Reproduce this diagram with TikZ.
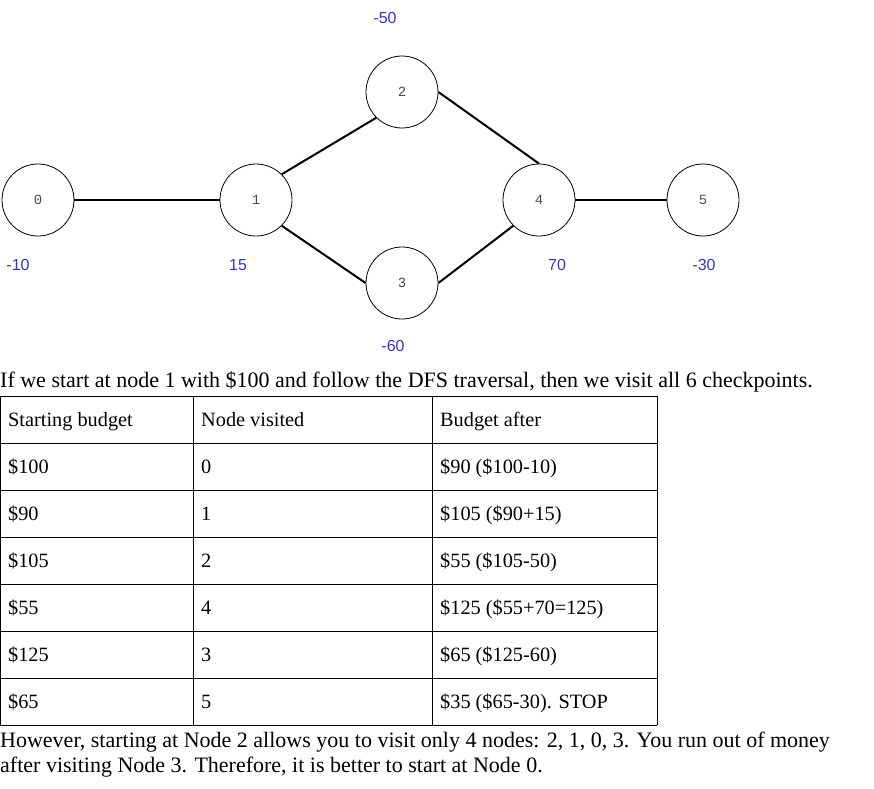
\documentclass[tikz,border=0pt]{standalone}
\usepackage{fontspec}
\setmainfont{Liberation Serif}
\newfontfamily\lsans{Liberation Sans}
\newfontfamily\lmono{Liberation Mono}
\definecolor{lblue}{HTML}{3535C8}
\begin{document}
\begin{tikzpicture}[x=1pt,y=-1pt,
  gnode/.style={circle,draw,line width=0.8pt,minimum size=72pt,inner sep=0pt,font=\lmono\fontsize{14}{16}\selectfont,text=black!70},
  wlab/.style={font=\lsans\fontsize{16}{19}\selectfont,text=lblue},
  edge/.style={line width=2pt},
  txt/.style={font=\fontsize{22}{26}\selectfont,anchor=base west,inner sep=0pt},
  cell/.style={font=\fontsize{20.3}{24}\selectfont,anchor=base west,inner sep=0pt}]
\useasboundingbox (0,0) rectangle (874,788);
\node[gnode] (n0) at (38,200) {0};
\node[gnode] (n1) at (256,200) {1};
\node[gnode] (n2) at (402,92) {2};
\node[gnode] (n3) at (402,283) {3};
\node[gnode] (n4) at (539,200) {4};
\node[gnode] (n5) at (703,200) {5};
\draw[edge] (n0) -- (n1);
\draw[edge] (n1.north east) -- (n2.south west);
\draw[edge] (n1.south east) -- (n3.west);
\draw[edge] (n2.east) -- (n4.north);
\draw[edge] (n3.east) -- (n4.south west);
\draw[edge] (n4) -- (n5);
\node[wlab] (w2) at (385,18) {-50};
\node[wlab] (w0) at (18,265) {-10};
\node[wlab] (w1) at (238,265) {15};
\node[wlab] (w4) at (557,265) {70};
\node[wlab] (w5) at (704,265) {-30};
\node[wlab] (w3) at (393,346) {-60};
\node[txt] (t1) at (0,387) {If we start at node 1 with \$100 and follow the DFS traversal, then we visit all 6 checkpoints.};
% table
\foreach \y in {396,443,490,537,584,631,678,725} \draw[line width=0.8pt] (0,\y) -- (657,\y);
\foreach \x in {0.5,193,432,657} \draw[line width=0.8pt] (\x,396) -- (\x,725);
\foreach \a/\b/\c [count=\i from 0] in {Starting budget/Node visited/Budget after,\$100/0/\$90 (\$100-10),\$90/1/\$105 (\$90+15),\$105/2/\$55 (\$105-50),\$55/4/\$125 (\$55+70=125),\$125/3/\$65 (\$125-60),\$65/5/\$35 (\$65-30). STOP}{
  \node[cell] (ca\i) at (8,426+47*\i) {\a};
  \node[cell] (cb\i) at (201,426+47*\i) {\b};
  \node[cell] (cc\i) at (440,426+47*\i) {\c};
}
\node[txt] (t2) at (0,747) {However, starting at Node 2 allows you to visit only 4 nodes: 2, 1, 0, 3. You run out of money};
\node[txt] (t3) at (0,772) {after visiting Node 3. Therefore, it is better to start at Node 0.};
\end{tikzpicture}
\end{document}
